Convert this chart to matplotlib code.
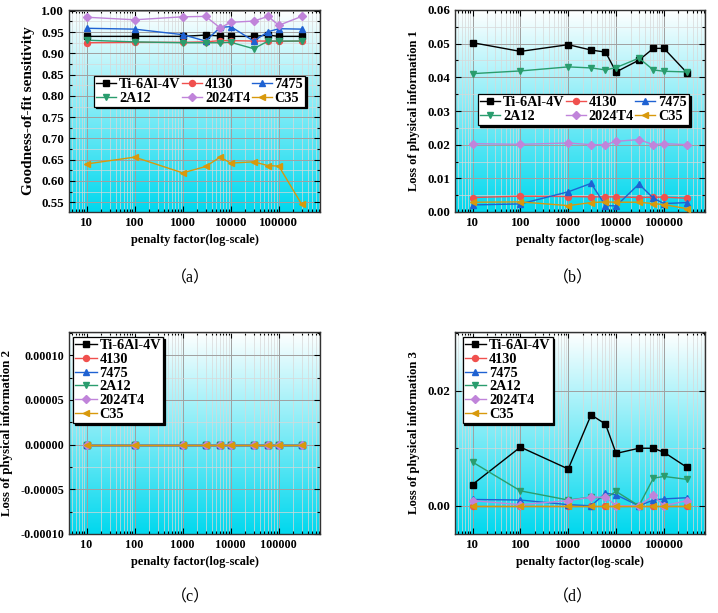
import numpy as np
import matplotlib
matplotlib.use("Agg")
import matplotlib.pyplot as plt
from matplotlib.colors import LinearSegmentedColormap
from matplotlib.ticker import FixedLocator, FuncFormatter, LogLocator, MultipleLocator, NullFormatter

# ---------------- data ----------------
penalty = [10, 100, 1000, 3000, 6000, 10000, 30000, 60000, 100000, 300000]
materials = ["Ti-6Al-4V", "4130", "7475", "2A12", "2024T4", "C35"]

# (a) Goodness-of-fit sensitivity
gof_ti   = [0.940, 0.940, 0.940, 0.943, 0.941, 0.940, 0.940, 0.943, 0.940, 0.940]
gof_4130 = [0.925, 0.926, 0.926, 0.927, 0.930, 0.930, 0.929, 0.929, 0.928, 0.929]
gof_7475 = [0.959, 0.957, 0.944, 0.929, 0.961, 0.963, 0.929, 0.951, 0.958, 0.957]
gof_2a12 = [0.931, 0.927, 0.925, 0.925, 0.925, 0.926, 0.911, 0.929, 0.929, 0.929]
gof_2024 = [0.985, 0.979, 0.986, 0.987, 0.960, 0.973, 0.976, 0.987, 0.966, 0.987]
gof_c35  = [0.640, 0.656, 0.619, 0.634, 0.656, 0.642, 0.645, 0.636, 0.635, 0.545]

# (b) Loss of physical information 1
l1_ti   = [0.0503, 0.0477, 0.0497, 0.0481, 0.0475, 0.0416, 0.0451, 0.0486, 0.0486, 0.0414]
l1_4130 = [0.0043, 0.0047, 0.0046, 0.0045, 0.0045, 0.0045, 0.0043, 0.0044, 0.0044, 0.0041]
l1_7475 = [0.0021, 0.0024, 0.0060, 0.0085, 0.0019, 0.0018, 0.0083, 0.0041, 0.0025, 0.0028]
l1_2a12 = [0.0411, 0.0419, 0.0431, 0.0428, 0.0422, 0.0429, 0.0457, 0.0422, 0.0418, 0.0416]
l1_2024 = [0.0203, 0.0201, 0.0205, 0.0200, 0.0200, 0.0210, 0.0215, 0.0200, 0.0203, 0.0200]
l1_c35  = [0.0029, 0.0030, 0.0019, 0.0028, 0.0030, 0.0029, 0.0029, 0.0025, 0.0022, 0.0010]

# (c) Loss of physical information 2
l2_ti   = [0.0] * 10
l2_4130 = [0.0] * 10
l2_7475 = [0.0] * 10
l2_2a12 = [0.0] * 10
l2_2024 = [0.0] * 10
l2_c35  = [0.0] * 10

# (d) Loss of physical information 3
l3_ti   = [0.0037, 0.0102, 0.0064, 0.0158, 0.0142, 0.0091, 0.0100, 0.0100, 0.0093, 0.0067]
l3_4130 = [0.0] * 10
l3_7475 = [0.0011, 0.0010, 0.0002, 0.0000, 0.0022, 0.0019, 0.0000, 0.0010, 0.0012, 0.0014]
l3_2a12 = [0.0076, 0.0026, 0.0010, 0.0015, 0.0013, 0.0025, 0.0000, 0.0048, 0.0051, 0.0046]
l3_2024 = [0.0009, 0.0002, 0.0009, 0.0015, 0.0015, 0.0000, 0.0000, 0.0018, 0.0000, 0.0009]
l3_c35  = [0.0] * 10

xtick_vals = [10, 100, 1000, 10000, 100000]
xtick_labels = ["10", "100", "1000", "10000", "100000"]

colors = ["#000000", "#F0504E", "#1F62D2", "#2A9D6E", "#C084DA", "#D8990C"]
markers = ["s", "o", "^", "v", "D", "<"]
msizes = [4.3, 4.3, 4.8, 4.8, 3.6, 4.8]

SERIF = "Liberation Serif"
plt.rcParams["font.family"] = SERIF
plt.rcParams["font.weight"] = "bold"

W, H = 718, 613
fig = plt.figure(figsize=(W / 100, H / 100), dpi=100)
fig.patch.set_facecolor("white")

cmap = LinearSegmentedColormap.from_list("bg", ["#00D8EE", "#FFFFFF"])
grad = np.linspace(0, 1, 256).reshape(-1, 1)


def make_ax(left, top, right, bottom):
    return fig.add_axes([left / W, 1 - bottom / H, (right - left) / W, (bottom - top) / H])


def style(ax, ylim, ymajor, yminor, yfmt, ylabel, ylsize, ylx, ticksize=9.3):
    ax.imshow(grad, aspect="auto", cmap=cmap, extent=[0, 1, 0, 1],
              transform=ax.transAxes, origin="lower", zorder=-10)
    ax.set_xscale("log")
    ax.set_xlim(4.3, 7.2e5)
    ax.set_ylim(*ylim)
    ax.xaxis.set_major_locator(FixedLocator(xtick_vals))
    ax.xaxis.set_major_formatter(FuncFormatter(lambda v, p: xtick_labels[xtick_vals.index(v)] if v in xtick_vals else ""))
    ax.xaxis.set_minor_locator(LogLocator(base=10, subs=np.arange(2, 10)))
    ax.xaxis.set_minor_formatter(NullFormatter())
    ax.yaxis.set_major_locator(MultipleLocator(ymajor))
    ax.yaxis.set_minor_locator(MultipleLocator(yminor))
    ax.yaxis.set_major_formatter(FuncFormatter(yfmt))
    ax.grid(True, which="major", color="#A0A0A0", lw=0.7, zorder=0)
    ax.grid(True, which="minor", color="#D8D8D8", lw=0.5, zorder=0)
    ax.set_axisbelow(True)
    ax.tick_params(which="both", direction="in", top=True, right=True, width=0.8)
    ax.tick_params(which="major", length=4, labelsize=ticksize)
    ax.tick_params(which="minor", length=2)
    for lab in ax.get_xticklabels() + ax.get_yticklabels():
        lab.set_fontweight("bold")
        lab.set_family(SERIF)
    for s in ax.spines.values():
        s.set_color("#333333")
        s.set_linewidth(1.0)
    ax.set_xlabel("penalty factor(log-scale)", fontsize=8.9, fontweight="bold", labelpad=4)
    ax.set_ylabel(ylabel, fontsize=ylsize, fontweight="bold")
    ax.yaxis.set_label_coords(ylx, 0.5)


def plot_series(ax, series):
    lines = []
    for i, ys in enumerate(series):
        ln, = ax.plot(penalty, ys, color=colors[i], marker=markers[i], ms=msizes[i],
                      lw=1.0, label=materials[i], zorder=3 + i)
        lines.append(ln)
    return lines


def legend(ax, lines, ncol, anchor, hl):
    if ncol == 3:
        order = [0, 3, 1, 4, 2, 5]  # row-wise appearance: Ti,4130,7475 / 2A12,2024T4,C35
    else:
        order = list(range(6))
    hs = [lines[i] for i in order]
    ls = [materials[i] for i in order]
    leg = ax.legend(hs, ls, ncol=ncol, loc="upper left", bbox_to_anchor=anchor, borderaxespad=0,
                    fancybox=False, framealpha=1, edgecolor="black",
                    prop={"family": SERIF, "weight": "bold", "size": 10.3},
                    handlelength=hl, handletextpad=0.2, columnspacing=0.1,
                    labelspacing=0.05, borderpad=0.15,
                    shadow={"color": "black", "alpha": 1.0, "ox": 1.3, "oy": -1.3})
    leg.get_frame().set_linewidth(0.9)
    leg.set_zorder(20)
    return leg


# (a)
ax = make_ax(69, 10, 320, 212)
style(ax, (0.527, 1.002), 0.05, 0.025, lambda v, p: f"{v:.2f}", "Goodness-of-fit sensitivity", 11, -0.135)
ln = plot_series(ax, [gof_ti, gof_4130, gof_7475, gof_2a12, gof_2024, gof_c35])
legend(ax, ln, 3, (0.10, 0.675), 1.4)

# (b)
ax = make_ax(455, 10, 705, 212)
style(ax, (0.0, 0.06), 0.01, 0.005, lambda v, p: f"{v:.2f}", "Loss of physical information 1", 9.0, -0.14)
ln = plot_series(ax, [l1_ti, l1_4130, l1_7475, l1_2a12, l1_2024, l1_c35])
legend(ax, ln, 3, (0.092, 0.585), 1.4)

# (c)
ax = make_ax(69, 332, 320, 534)
style(ax, (-0.0001, 0.000126), 0.00005, 0.000025, lambda v, p: f"{v:.5f}", "Loss of physical information 2", 9.3, -0.223, 8.7)
ln = plot_series(ax, [l2_ti, l2_4130, l2_7475, l2_2a12, l2_2024, l2_c35])
legend(ax, ln, 1, (0.016, 0.975), 1.5)

# (d)
ax = make_ax(455, 332, 705, 534)
style(ax, (-0.0049, 0.0302), 0.02, 0.01, lambda v, p: f"{v:.2f}", "Loss of physical information 3", 9.1, -0.14)
ln = plot_series(ax, [l3_ti, l3_4130, l3_7475, l3_2a12, l3_2024, l3_c35])
legend(ax, ln, 1, (0.03, 0.975), 1.5)

lab_font = ["Liberation Serif", "Noto Sans CJK SC", "DejaVu Sans"]
for lab, x, y in [("（a）", 190, 278), ("（b）", 573, 278), ("（c）", 190, 597), ("（d）", 573, 597)]:
    fig.text(x / W, 1 - y / H, lab, ha="center", va="center", fontsize=11.5,
             family=lab_font, fontweight="normal")

fig.savefig("out.png", dpi=100)
